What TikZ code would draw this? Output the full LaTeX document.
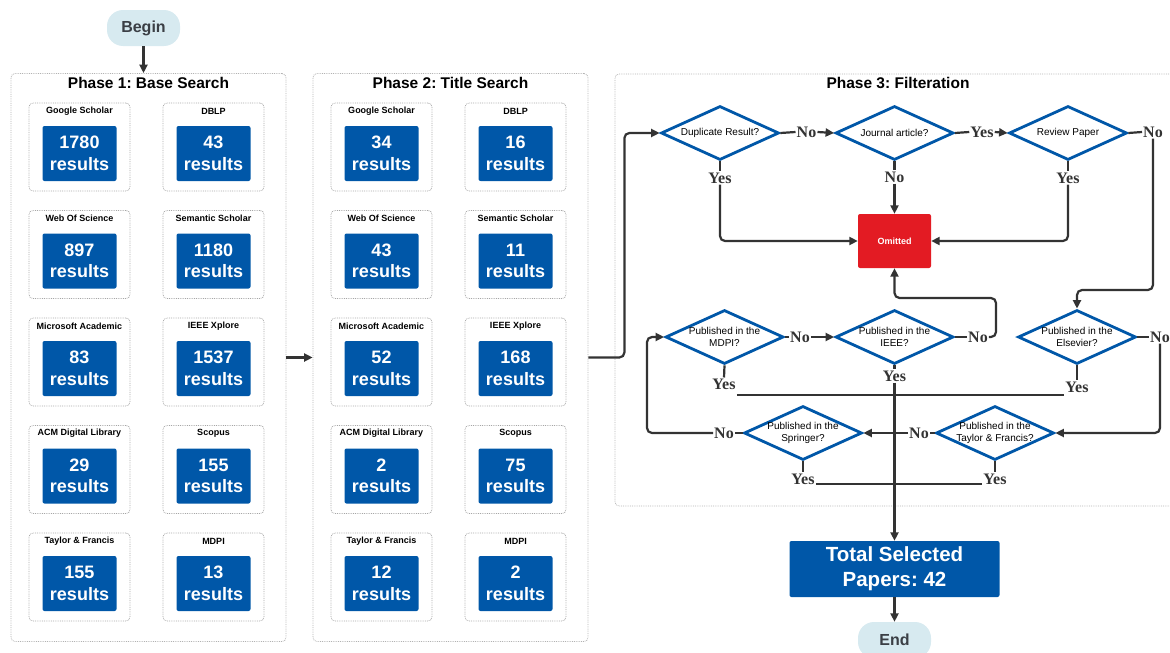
\documentclass[tikz,border=0pt]{standalone}
\usepackage{fontspec}
\setmainfont{Liberation Sans}
\newfontfamily\ynfont{Liberation Serif}
\usetikzlibrary{positioning,shapes.geometric,arrows.meta}
\frenchspacing
\definecolor{boxblue}{HTML}{0057A8}
\definecolor{omitred}{HTML}{E31B23}
\definecolor{pillfill}{HTML}{D7EAF0}
\definecolor{linegray}{HTML}{333333}
\definecolor{pilltext}{HTML}{3B3F45}
\tikzset{
  phasebox/.style={draw=gray!60,densely dotted,line width=0.8pt,rounded corners=4pt},
  phasetitle/.style={font=\bfseries\fontsize{15.5}{18}\selectfont,inner sep=0pt},
  card/.style={draw=gray!70,densely dotted,line width=0.8pt,rounded corners=4pt,minimum width=101pt,minimum height=88pt},
  cardlabel/.style={font=\bfseries\fontsize{9}{10}\selectfont,inner sep=0pt},
  countbox/.style={fill=boxblue,rounded corners=2pt,minimum width=74pt,minimum height=55pt,inner sep=0pt,align=center,text=white,font=\bfseries\fontsize{18}{21.5}\selectfont},
  pill/.style={fill=pillfill,rounded corners=16pt,minimum width=73pt,minimum height=36pt,text=pilltext,font=\bfseries\fontsize{16}{19}\selectfont},
  decision/.style={diamond,draw=boxblue,line width=2.8pt,aspect=2.2,minimum width=118pt,minimum height=54pt,inner sep=-4pt,align=center,font=\fontsize{10}{12}\selectfont},
  yn/.style={font=\ynfont\bfseries\fontsize{16}{18}\selectfont,text=linegray,inner sep=1pt},
  flow/.style={draw=linegray,line width=2.2pt},
  arr/.style={flow,-{Triangle[length=8.5pt,width=8pt]}},
}
\newcommand{\srccard}[5]{%
  \node[card] (#1) at (#2,#3+44) {};
  \node[cardlabel] (#1t) at (#2,#3+8) {#4};
  \node[countbox] (#1n) at (#2,#3+50.5) {#5\\results};}
\begin{document}
\begin{tikzpicture}[x=1pt,y=-1pt]
\useasboundingbox (0,0) rectangle (1170,653);
\node[pill] (begin) at (143.5,28) {Begin};
\node[phasebox,minimum width=275pt,minimum height=568pt] (ph1) at (148.5,357.5) {};
\node[phasebox,minimum width=275pt,minimum height=568pt] (ph2) at (450.5,357.5) {};
\node[phasebox,minimum width=565pt,minimum height=432pt] (ph3) at (897.5,290) {};
\node[phasetitle] (ph1t) at (148.5,83) {Phase 1: Base Search};
\node[phasetitle] (ph2t) at (450.5,83) {Phase 2: Title Search};
\node[phasetitle] (ph3t) at (898,83) {Phase 3: Filteration};
\srccard{gsA}{79.5}{103}{Google Scholar}{1780}
\srccard{dbA}{213.5}{103}{DBLP}{43}
\srccard{wosA}{79.5}{210.5}{Web Of Science}{897}
\srccard{ssA}{213.5}{210.5}{Semantic Scholar}{1180}
\srccard{maA}{79.5}{318}{Microsoft Academic}{83}
\srccard{ieA}{213.5}{318}{IEEE Xplore}{1537}
\srccard{acmA}{79.5}{425.5}{ACM Digital Library}{29}
\srccard{scA}{213.5}{425.5}{Scopus}{155}
\srccard{tfA}{79.5}{533}{Taylor \& Francis}{155}
\srccard{mdA}{213.5}{533}{MDPI}{13}
\srccard{gsB}{381.5}{103}{Google Scholar}{34}
\srccard{dbB}{515.5}{103}{DBLP}{16}
\srccard{wosB}{381.5}{210.5}{Web Of Science}{43}
\srccard{ssB}{515.5}{210.5}{Semantic Scholar}{11}
\srccard{maB}{381.5}{318}{Microsoft Academic}{52}
\srccard{ieB}{515.5}{318}{IEEE Xplore}{168}
\srccard{acmB}{381.5}{425.5}{ACM Digital Library}{2}
\srccard{scB}{515.5}{425.5}{Scopus}{75}
\srccard{tfB}{381.5}{533}{Taylor \& Francis}{12}
\srccard{mdB}{515.5}{533}{MDPI}{2}
% phase 3 decisions
\node[decision] (dup) at (720,133) {Duplicate Result?};
\node[decision] (jour) at (894.5,133) {Journal article?};
\node[decision] (rev) at (1068,133) {Review Paper};
\node[fill=omitred,rounded corners=2pt,minimum width=73pt,minimum height=54pt,text=white,font=\bfseries\fontsize{9}{11}\selectfont] (omit) at (894.5,241) {Omitted};
\node[decision] (mdpi) at (724.5,337) {Published in the\\MDPI?};
\node[decision] (ieee) at (894.5,337) {Published in the\\IEEE?};
\node[decision] (els) at (1077,337) {Published in the\\Elsevier?};
\node[decision] (spr) at (803,433) {Published in the\\Springer?};
\node[decision] (tf) at (995,433) {Published in the\\Taylor \& Francis?};
\node[countbox,minimum width=210pt,minimum height=56pt,font=\bfseries\fontsize{20.5}{25}\selectfont] (total) at (894.5,569) {Total Selected\\Papers: 42};
\node[pill] (end) at (894.5,640) {End};
\node[yn] (ndup) at (806.5,132) {No};
\node[yn] (yjour) at (982,132) {Yes};
\node[yn] (nrev) at (1153,132) {No};
\node[yn] (ydup) at (720,178) {Yes};
\node[yn] (njour) at (894.5,177) {No};
\node[yn] (yrev) at (1068,178) {Yes};
\node[yn] (nmdpi) at (800,337) {No};
\node[yn] (nieee) at (978,337) {No};
\node[yn] (nels) at (1160,337) {No};
\node[yn] (ymdpi) at (724,384) {Yes};
\node[yn] (yieee) at (894.5,376) {Yes};
\node[yn] (yels) at (1077,387) {Yes};
\node[yn] (nspr) at (724,433) {No};
\node[yn] (ntf) at (919,433) {No};
\node[yn] (yspr) at (803,479) {Yes};
\node[yn] (ytf) at (995,479) {Yes};
\coordinate (revturn) at (1155,290);
\coordinate (ieeeturn) at (996,298);
\coordinate (sprturn) at (647,433);
\coordinate (m1) at (894.5,395);
\coordinate (m2) at (894.5,484);
% connectors
\draw[arr] (begin) -- (begin |- ph1.north);
\draw[arr] (ph1.east) -- (ph2.west);
\draw[arr,rounded corners=5pt] (ph2.east) -- ++(36,0) |- (dup.west);
\draw[flow] (dup.east) -- (ndup.west);
\draw[arr] (ndup.east) -- (jour.west);
\draw[flow] (jour.east) -- (yjour.west);
\draw[arr] (yjour.east) -- (rev.west);
\draw[flow] (rev.east) -- (nrev.west);
\draw[flow] (dup.south) -- (ydup.north);
\draw[arr,rounded corners=5pt] (ydup.south) |- (omit.west);
\draw[flow] (jour.south) -- (njour.north);
\draw[arr] (njour.south) -- (omit.north);
\draw[flow] (rev.south) -- (yrev.north);
\draw[arr,rounded corners=5pt] (yrev.south) |- (omit.east);
\draw[arr,rounded corners=5pt] (nrev.south) -- (nrev.south |- revturn) -| (els.north);
\draw[flow] (mdpi.east) -- (nmdpi.west);
\draw[arr] (nmdpi.east) -- (ieee.west);
\draw[flow] (ieee.east) -- (nieee.west);
\draw[arr,rounded corners=5pt] (nieee.east) -| (ieeeturn) -| (omit.south);
\draw[flow] (els.east) -- (nels.west);
\draw[arr,rounded corners=5pt] (nels.south) |- (tf.east);
\draw[flow] (tf.west) -- (ntf.east);
\draw[arr] (ntf.west) -- (spr.east);
\draw[flow] (spr.west) -- (nspr.east);
\draw[arr,rounded corners=5pt] (nspr.west) -- (sprturn) |- (mdpi.west);
\draw[flow] (mdpi.south) -- (ymdpi.north);
\draw[flow] (ieee.south) -- (yieee.north);
\draw[flow] (els.south) -- (yels.north);
\draw[flow] (spr.south) -- (yspr.north);
\draw[flow] (tf.south) -- (ytf.north);
\draw[flow] (ymdpi.east |- m1) -- (m1) -- (yels.west |- m1);
\draw[flow] (yspr.east |- m2) -- (m2) -- (ytf.west |- m2);
\draw[arr] (yieee.south) -- (total.north);
\draw[arr] (total) -- (end);
\end{tikzpicture}
\end{document}
